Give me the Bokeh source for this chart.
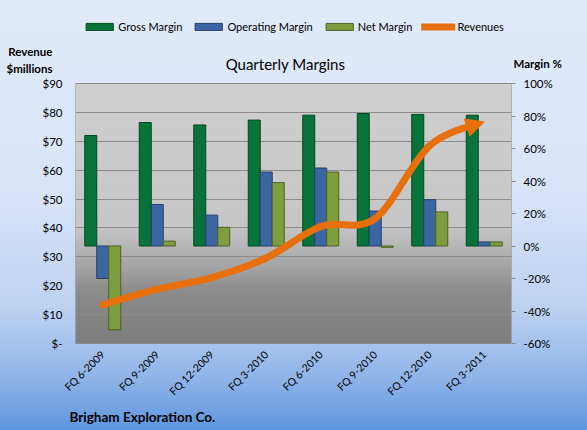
import numpy as np
from bokeh.plotting import figure
from bokeh.models import (Range1d, FactorRange, LinearAxis, FixedTicker, CustomJSTickFormatter,
                          PrintfTickFormatter, Legend, LegendItem, Label, Title, Arrow, NormalHead)
from bokeh.transform import dodge
from bokeh.embed import file_html
from bokeh.resources import INLINE

# ---- data ---------------------------------------------------------------
quarters = ["FQ 6-2009", "FQ 9-2009", "FQ 12-2009", "FQ 3-2010",
            "FQ 6-2010", "FQ 9-2010", "FQ 12-2010", "FQ 3-2011"]
gross_margin = [68.0, 76.0, 74.5, 77.5, 80.5, 81.5, 81.0, 80.5]        # %
operating_margin = [-20.0, 25.5, 19.0, 45.5, 48.0, 21.5, 28.5, 2.5]   # %
net_margin = [-51.5, 3.0, 11.5, 39.0, 45.5, -0.8, 21.0, 2.5]          # %
revenues = [13.4, 18.8, 22.8, 29.6, 40.5, 43.3, 68.5, 76.7]           # $ millions

revenue_ticks = list(range(0, 91, 10))
margin_ticks = list(range(-60, 101, 20))

FONT = "Lato"
ORANGE = "#e8700c"
GREY = "#8a8a8a"

# The frame reaches the top of the page so the legend and headings can live in it;
# the plotting area itself spans the tick range, 260 px tall, ending 343 px down.
AREA_TOP, AREA_BOTTOM = 83, 343
rev_per_px = (revenue_ticks[-1] - revenue_ticks[0]) / (AREA_BOTTOM - AREA_TOP)
pct_per_px = (margin_ticks[-1] - margin_ticks[0]) / (AREA_BOTTOM - AREA_TOP)


def rev_at(py):
    return revenue_ticks[0] + (AREA_BOTTOM - py) * rev_per_px


def pct_at(py):
    return margin_ticks[0] + (AREA_BOTTOM - py) * pct_per_px


p = figure(width=587, height=430, x_range=FactorRange(*quarters, range_padding=0),
           y_range=Range1d(revenue_ticks[0], rev_at(0)), output_backend="svg",
           toolbar_location=None, title=None,
           min_border_left=75, min_border_right=76, min_border_top=0, min_border_bottom=87)
p.extra_y_ranges = {"pct": Range1d(margin_ticks[0], pct_at(0))}

# page look
p.border_fill_alpha = 0
p.background_fill_alpha = 0
p.outline_line_color = None
p.styles = {"background": "linear-gradient(to bottom, #e0eafa 0%, #d8e4f8 45%, #bcd1f1 72%, #8fb4e8 88%, #5e95de 100%)"}

# vertical grey gradient of the plotting area
stops_f = [0.0, 0.55, 0.66, 0.80, 1.0]
stops_v = [208, 198, 176, 140, 126]
rows = 260
f = np.linspace(1.0, 0.0, rows)  # image row 0 is the bottom
vals = np.interp(f, stops_f, stops_v).astype(np.uint32)
img = np.empty((rows, 2), dtype=np.uint32)
view = img.view(dtype=np.uint8).reshape((rows, 2, 4))
view[:, :, 0] = vals[:, None]
view[:, :, 1] = vals[:, None]
view[:, :, 2] = vals[:, None]
view[:, :, 3] = 255
p.image_rgba(image=[img], x=0, y=revenue_ticks[0], dw=len(quarters),
             dh=revenue_ticks[-1] - revenue_ticks[0], level="image")

p.ygrid.ticker = FixedTicker(ticks=revenue_ticks)
p.ygrid.grid_line_color = "#8c8c8c"
p.xgrid.grid_line_color = None

# border of the plotting area
p.quad(left=0, right=len(quarters), bottom=revenue_ticks[0], top=revenue_ticks[-1],
       fill_alpha=0, line_color=GREY, line_width=1)

# ---- bars on the margin axis ---------------------------------------------
src = dict(q=quarters, gm=gross_margin, om=operating_margin, nm=net_margin)
bw = 0.22
r_gm = p.vbar(x=dodge("q", -bw, range=p.x_range), top="gm", bottom=0, width=bw, source=src,
              y_range_name="pct", fill_color="#07733a", line_color="#02481f", line_width=1)
r_om = p.vbar(x=dodge("q", 0, range=p.x_range), top="om", bottom=0, width=bw, source=src,
              y_range_name="pct", fill_color="#3c66a2", line_color="#233f68", line_width=1)
r_nm = p.vbar(x=dodge("q", bw, range=p.x_range), top="nm", bottom=0, width=bw, source=src,
              y_range_name="pct", fill_color="#7f9c3e", line_color="#4d6224", line_width=1)

# ---- smoothed revenue line (cubic Bezier segments through each quarter) ----
xc = [i + 0.5 for i in range(len(revenues))]
n = len(revenues)
x0, y0, x1, y1, cx0, cy0, cx1, cy1 = ([] for _ in range(8))
for i in range(n - 1):
    a = max(i - 1, 0)
    d = min(i + 2, n - 1)
    x0.append(xc[i]); y0.append(revenues[i])
    x1.append(xc[i + 1]); y1.append(revenues[i + 1])
    cx0.append(xc[i] + (xc[i + 1] - xc[a]) / 6); cy0.append(revenues[i] + (revenues[i + 1] - revenues[a]) / 6)
    cx1.append(xc[i + 1] - (xc[d] - xc[i]) / 6); cy1.append(revenues[i + 1] - (revenues[d] - revenues[i]) / 6)

# shorten the last segment so the arrow head sits on its end
t = 0.8
P0 = np.array([x0[-1], y0[-1]]); C0 = np.array([cx0[-1], cy0[-1]])
C1 = np.array([cx1[-1], cy1[-1]]); P1 = np.array([x1[-1], y1[-1]])
A = P0 + t * (C0 - P0); B = C0 + t * (C1 - C0); C = C1 + t * (P1 - C1)
D = A + t * (B - A); E = B + t * (C - B); S = D + t * (E - D)
x1[-1], y1[-1] = S
cx0[-1], cy0[-1] = A
cx1[-1], cy1[-1] = D

r_rev = p.bezier(x0=x0, y0=y0, x1=x1, y1=y1, cx0=cx0, cy0=cy0, cx1=cx1, cy1=cy1,
                 line_color=ORANGE, line_width=7, line_cap="round")
p.add_layout(Arrow(end=NormalHead(size=18, fill_color=ORANGE, line_color=ORANGE, line_width=1),
                   x_start=float(S[0]), y_start=float(S[1]), x_end=xc[-1], y_end=revenues[-1],
                   line_color=ORANGE, line_width=7))

# ---- axes ----------------------------------------------------------------
def plain(axis, size="11.5px", bold=False):
    axis.axis_line_color = None
    axis.major_tick_line_color = None
    axis.minor_tick_line_color = None
    axis.major_tick_out = 0
    axis.major_tick_in = 0
    axis.minor_tick_out = 0
    axis.major_label_text_font = FONT
    axis.major_label_text_font_size = size
    axis.major_label_text_color = "#000000"
    axis.major_label_text_font_style = "bold" if bold else "normal"


ly = p.yaxis[0]
ly.ticker = FixedTicker(ticks=revenue_ticks)
ly.formatter = CustomJSTickFormatter(code="return tick == 0 ? '$-' : '$' + tick;")
plain(ly)
ly.major_label_standoff = 13

# left heading, stacked outside the revenue axis
head_rev, head_mil = rev_at(51), rev_at(68)
rev_head = LinearAxis(ticker=FixedTicker(ticks=[head_mil, head_rev]),
                      formatter=CustomJSTickFormatter(
                          code="return tick > %f ? 'Revenue' : '$millions';" % ((head_rev + head_mil) / 2)))
plain(rev_head, bold=True)
rev_head.major_label_standoff = -13
p.add_layout(rev_head, "left")

ry = LinearAxis(y_range_name="pct", ticker=FixedTicker(ticks=margin_ticks),
                formatter=PrintfTickFormatter(format="%d%%"))
plain(ry)
ry.major_tick_line_color = GREY
ry.major_tick_out = 4
ry.major_label_standoff = 8
p.add_layout(ry, "right")

pct_head = LinearAxis(y_range_name="pct", ticker=FixedTicker(ticks=[pct_at(63)]),
                      formatter=CustomJSTickFormatter(code="return 'Margin %';"))
plain(pct_head, bold=True)
pct_head.major_label_standoff = -42
p.add_layout(pct_head, "right")

xa = p.xaxis[0]
plain(xa, size="10.5px")
xa.axis_line_color = GREY
xa.major_label_orientation = np.pi / 4
xa.major_label_standoff = 9

p.add_layout(Title(text="Brigham Exploration Co.", align="left", offset=-6, standoff=4,
                   text_font=FONT, text_font_size="13.5px", text_font_style="bold",
                   text_color="#000000"), "below")

# ---- title and legend ----------------------------------------------------
p.add_layout(Label(x=210, y=AREA_BOTTOM - 63, x_units="screen", y_units="screen",
                   text="Quarterly Margins", text_font=FONT, text_font_size="15px",
                   text_align="center", text_baseline="middle", text_color="#000000"))

legend = Legend(items=[LegendItem(label="Gross Margin", renderers=[r_gm]),
                       LegendItem(label="Operating Margin", renderers=[r_om]),
                       LegendItem(label="Net Margin", renderers=[r_nm]),
                       LegendItem(label="Revenues", renderers=[r_rev])],
                orientation="horizontal", location="top_center",
                background_fill_alpha=0, border_line_color=None,
                padding=0, margin=19, spacing=9, label_standoff=2,
                glyph_width=34, glyph_height=9, label_height=14,
                label_text_font=FONT, label_text_font_size="11px", label_text_color="#000000")
p.add_layout(legend, "center")

open("out.html", "w").write(file_html(p, INLINE))
